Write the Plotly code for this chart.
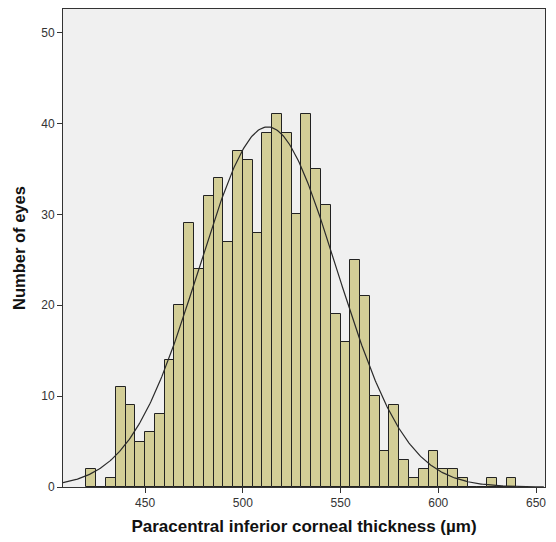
import numpy as np
import plotly.graph_objects as go

# Histogram bins (left edge, width 5 µm) and counts
bin_starts = [420, 425, 430, 435, 440, 445, 450, 455, 460, 465, 470, 475, 480, 485,
              490, 495, 500, 505, 510, 515, 520, 525, 530, 535, 540, 545, 550, 555,
              560, 565, 570, 575, 580, 585, 590, 595, 600, 605, 610, 615, 620, 625,
              630, 635]
counts = [2, 0, 1, 11, 9, 5, 6, 8, 14, 20, 29, 24, 32, 34,
          27, 37, 36, 28, 39, 41, 39, 30, 41, 35, 31, 19, 16, 25,
          21, 10, 4, 9, 3, 1, 2, 4, 2, 2, 1, 0, 0, 1,
          0, 1]
bin_width = 5

x_ticks = [450, 500, 550, 600, 650]
y_ticks = [0, 10, 20, 30, 40, 50]

# Normal curve fitted to the histogram data
starts = np.array(bin_starts, dtype=float)
cnt = np.array(counts, dtype=float)
centers = starts + bin_width / 2
n = cnt.sum()
mean = (cnt * centers).sum() / n
sd = np.sqrt((cnt * (centers - mean) ** 2).sum() / (n - 1))
xs = np.linspace(408, 654, 400)
ys = n * bin_width / (sd * np.sqrt(2 * np.pi)) * np.exp(-0.5 * ((xs - mean) / sd) ** 2)

fig = go.Figure()
fig.add_trace(go.Bar(
    x=bin_starts, y=counts, width=bin_width, offset=0,
    marker=dict(color="#D3CE97", line=dict(color="#222222", width=1)),
    showlegend=False, hoverinfo="skip",
))
fig.add_trace(go.Scatter(
    x=xs, y=ys, mode="lines",
    line=dict(color="#2a2a2a", width=1.2),
    showlegend=False, hoverinfo="skip",
))

fig.update_layout(
    width=556, height=542,
    margin=dict(l=63, r=11, t=9, b=55),
    paper_bgcolor="white",
    plot_bgcolor="#F0F0F0",
    bargap=0,
    font=dict(family="Liberation Sans, Arial, sans-serif", color="#333333", size=12),
)
fig.update_xaxes(
    range=[408, 654.6],
    tickvals=x_ticks, ticktext=[str(v) for v in x_ticks],
    ticks="outside", ticklen=5, tickcolor="#333333",
    showline=True, linecolor="#333333", linewidth=1, mirror=True,
    showgrid=False, zeroline=False,
    title=dict(text="<b>Paracentral inferior corneal thickness (µm)</b>",
               font=dict(size=17, color="#111111"), standoff=10),
)
fig.update_yaxes(
    range=[0, 52.6],
    tickvals=y_ticks, ticktext=[str(v) for v in y_ticks],
    ticks="outside", ticklen=5, tickcolor="#333333",
    showline=True, linecolor="#333333", linewidth=1, mirror=True,
    showgrid=False, zeroline=False,
    title=dict(text="<b>Number of eyes</b>",
               font=dict(size=16.5, color="#111111"), standoff=11),
)

fig.write_html("out.html")
